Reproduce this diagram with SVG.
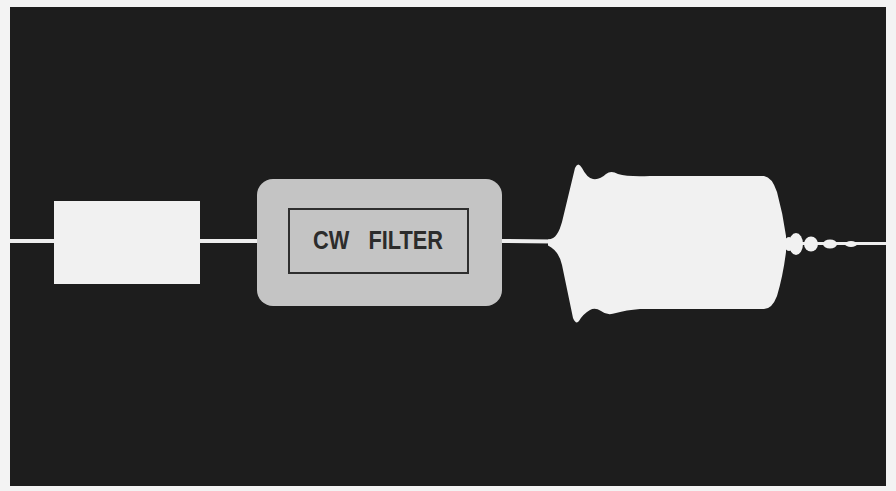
<svg xmlns="http://www.w3.org/2000/svg" width="896" height="491" viewBox="0 0 896 491">
  <style>
    .wire { stroke: #eeeeee; stroke-width: 4; fill: none; }
    .light { fill: #f1f1f1; }
    .label { font-family: "Liberation Sans", Arial, sans-serif; font-weight: bold; font-size: 25px; fill: #2c2c2c; word-spacing: 15px; }
  </style>
  <rect x="0" y="0" width="896" height="491" fill="#f3f3f3"/>
  <rect x="10" y="7" width="876" height="479" fill="#1d1d1d"/>

  <g id="connectors">
    <line class="wire" x1="10" y1="241" x2="258" y2="241"/>
    <line class="wire" x1="500" y1="241" x2="552" y2="241.5"/>
    <line class="wire" x1="780" y1="243.5" x2="886" y2="243.5" style="stroke-width:3"/>
  </g>

  <g id="input-box">
    <rect class="light" x="54" y="201" width="146" height="83"/>
  </g>

  <g id="cw-filter">
    <rect x="257" y="179" width="245" height="127" rx="16" ry="16" fill="#c4c4c4"/>
    <rect x="289" y="209" width="179" height="64" fill="none" stroke="#2e2e2e" stroke-width="2"/>
    <text class="label" x="313" y="249" textLength="130" lengthAdjust="spacingAndGlyphs">CW FILTER</text>
  </g>

  <g id="output-waveform">
    <path class="light" d="M 548 239.5 C 556 239, 559 232, 562 222 L 575 168 Q 578 161 582 168 Q 587 178 593 179 Q 600 180 606 174 Q 611 170 618 174 Q 628 177 650 176 L 764 176 Q 772 177 777 192 Q 783 214 786 236 L 786 252 Q 783 276 777 296 Q 772 309 764 309 L 640 309 Q 626 310 616 313 Q 607 316 601 311 Q 595 307 590 310 Q 583 314 579 321 Q 576 325 573 318 L 562 265 Q 559 251 548 245.5 Z"/>
    <ellipse class="light" cx="789" cy="244" rx="5" ry="7"/>
    <ellipse class="light" cx="796" cy="244" rx="7" ry="11"/>
    <ellipse class="light" cx="811" cy="244" rx="7" ry="7.5"/>
    <ellipse class="light" cx="830" cy="244" rx="7" ry="4.5"/>
    <ellipse class="light" cx="851" cy="244" rx="6" ry="3"/>
  </g>
</svg>
